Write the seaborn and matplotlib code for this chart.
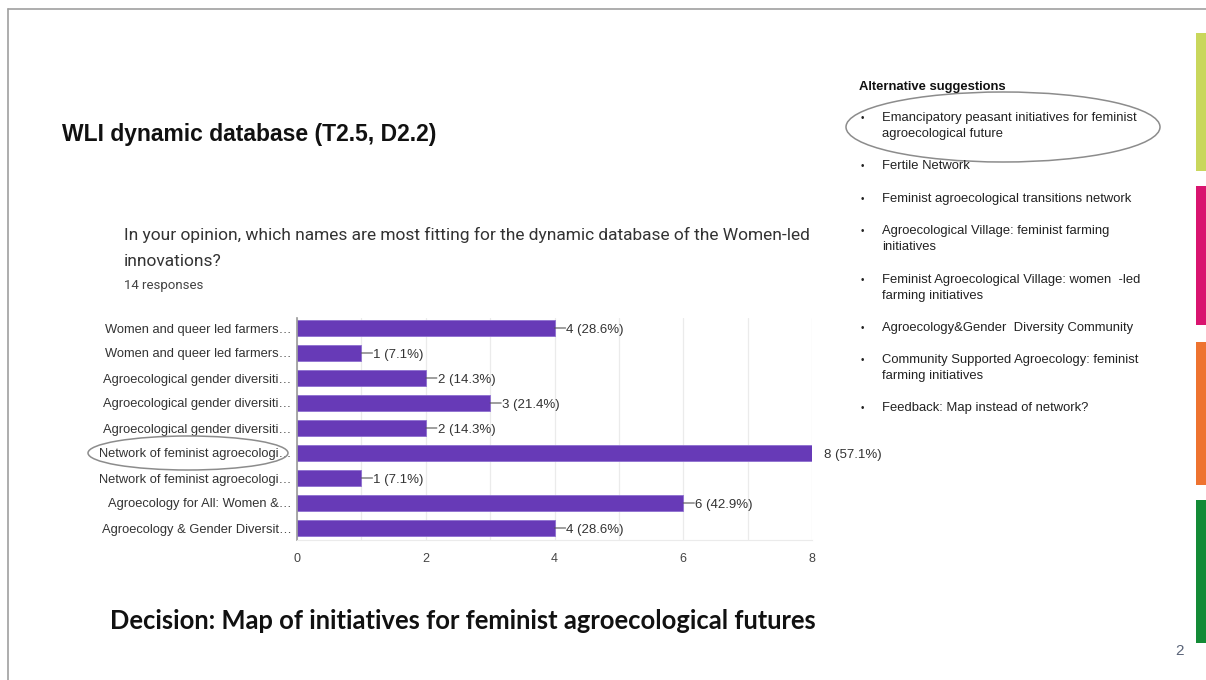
import numpy as np
import pandas as pd
import matplotlib.pyplot as plt
import seaborn as sns
from matplotlib.patches import Ellipse, Rectangle
from matplotlib.lines import Line2D
from matplotlib.transforms import Bbox

# survey answers (Google Forms style bar chart)
names = [
    "Women and queer led farmers\u2026",
    "Women and queer led farmers\u2026",
    "Agroecological gender diversiti\u2026",
    "Agroecological gender diversiti\u2026",
    "Agroecological gender diversiti\u2026",
    "Network of feminist agroecologi\u2026",
    "Network of feminist agroecologi\u2026",
    "Agroecology for All: Women &\u2026",
    "Agroecology & Gender Diversit\u2026",
]
votes = [4, 1, 2, 3, 2, 8, 1, 6, 4]
n_responses = 14

suggestions = [
    "Emancipatory peasant initiatives for feminist\nagroecological future",
    "Fertile Network",
    "Feminist agroecological transitions network",
    "Agroecological Village: feminist farming\ninitiatives",
    "Feminist Agroecological Village: women  -led\nfarming initiatives",
    "Agroecology&Gender  Diversity Community",
    "Community Supported Agroecology: feminist\nfarming initiatives",
    "Feedback: Map instead of network?",
]

sns.set_style("white")
plt.rcParams["font.family"] = ["Liberation Sans", "DejaVu Sans"]

W, H = 1206, 680
fig = plt.figure(figsize=(W / 100, H / 100), dpi=100)
fig.patch.set_facecolor("white")

def fx(px):
    return px / W

def fy(py):
    return 1 - py / H

# slide frame
fig.add_artist(Line2D([fx(8), 1], [fy(9), fy(9)], color="#a0a0a0", lw=1.2))
fig.add_artist(Line2D([fx(8), fx(8)], [fy(9), 0], color="#a0a0a0", lw=1.2))

# coloured strips on the right
strips = [("#c9d75c", 33, 171), ("#d9146f", 186, 325), ("#ee7330", 342, 485), ("#138a36", 500, 643)]
for col, y0, y1 in strips:
    fig.add_artist(Rectangle((fx(1196), fy(y1)), fx(10), (y1 - y0) / H, color=col, lw=0))
fig.text(fx(1179), fy(651), "2", fontsize=11, color="#5a6478", ha="center", va="center")

# titles
fig.text(fx(62), fy(135), "WLI dynamic database (T2.5, D2.2)", fontsize=16.5,
         fontweight="bold", color="#111111", va="center")
roboto = ["Roboto", "DejaVu Sans"]
fig.text(fx(124), fy(235), "In your opinion, which names are most fitting for the dynamic database of the Women-led",
         fontsize=12.5, family=roboto, color="#333333", va="center")
fig.text(fx(124), fy(261), "innovations?", fontsize=12.5, family=roboto, color="#333333", va="center")
fig.text(fx(124), fy(285), f"{n_responses} responses", fontsize=9.5, family=roboto,
         color="#444444", va="center")
fig.text(fx(110), fy(621), "Decision: Map of initiatives for feminist agroecological futures",
         fontsize=18.4, fontweight="bold", family=["Lato", "DejaVu Sans"], color="#111111", va="center")

# alternative suggestions list
fig.text(fx(859), fy(87), "Alternative suggestions", fontsize=9.4, fontweight="bold", color="#111111", va="center")
item_y = [118, 166, 199, 231, 280, 328, 360, 408]
for y, s in zip(item_y, suggestions):
    fig.text(fx(861), fy(y), "\u2022", fontsize=7, color="#222222", va="center")
    for k, line in enumerate(s.split("\n")):
        fig.text(fx(882), fy(y + 16 * k), line, fontsize=9.4, color="#222222", va="center")

# bar chart
ax = fig.add_axes([fx(297), fy(540), fx(812) - fx(297), (540 - 318) / H])
df = pd.DataFrame({"name": [f"{i}" for i in range(len(names))], "votes": votes})
sns.barplot(data=df, x="votes", y="name", orient="h", color="#673ab7", width=0.64,
            saturation=1, ax=ax, edgecolor="#8e6fd0", linewidth=0.6)
ax.set_yticks(range(len(names)))
ax.set_yticklabels(names)
ax.set_xlim(0, 8)
ax.set_ylim(8.48, -0.4)
ax.set_xticks([0, 2, 4, 6, 8])
ax.set_xticks(range(9), minor=True)
ax.grid(axis="x", which="both", color="#ebebeb", lw=0.9)
ax.set_axisbelow(True)
ax.set_xlabel("")
ax.set_ylabel("")
for side in ["top", "right"]:
    ax.spines[side].set_visible(False)
ax.spines["bottom"].set_color("#ebebeb")
ax.spines["left"].set_color("#999999")
ax.spines["left"].set_linewidth(1.2)
ax.tick_params(axis="y", length=0, pad=4, labelsize=9.3, labelcolor="#333333")
ax.tick_params(axis="x", which="both", length=0, pad=9, labelsize=9, labelcolor="#444444")

# clip labels at the left edge of the chart card
clip = Bbox.from_extents(96, 0, 300, H)
for lab in ax.get_yticklabels():
    lab.set_clip_box(clip)
    lab.set_clip_on(True)

vmax = max(votes)
for i, v in enumerate(votes):
    txt = f"{v} ({v / n_responses * 100:.1f}%)"
    if v == vmax:
        ax.annotate(txt, xy=(v, i), xytext=(9, -1.5), textcoords="offset points",
                    va="center", fontsize=9.5, color="#333333", annotation_clip=False)
    else:
        # short connector from bar end to the label
        ax.annotate("", xy=(v, i), xytext=(8, 0), textcoords="offset points",
                    arrowprops=dict(arrowstyle="-", color="#555555", lw=0.8, shrinkA=0, shrinkB=0))
        ax.annotate(txt, xy=(v, i), xytext=(8.5, -1.5), textcoords="offset points",
                    va="center", fontsize=9.5, color="#333333")

# hand-drawn highlight ellipses
fig.add_artist(Ellipse((fx(188), fy(453)), fx(200), 34 / H, fill=False, ec="#8c8c8c", lw=1.1))
fig.add_artist(Ellipse((fx(1003), fy(127)), fx(314), 70 / H, fill=False, ec="#8c8c8c", lw=1.1))

fig.savefig("out.png", dpi=100, facecolor="white")
